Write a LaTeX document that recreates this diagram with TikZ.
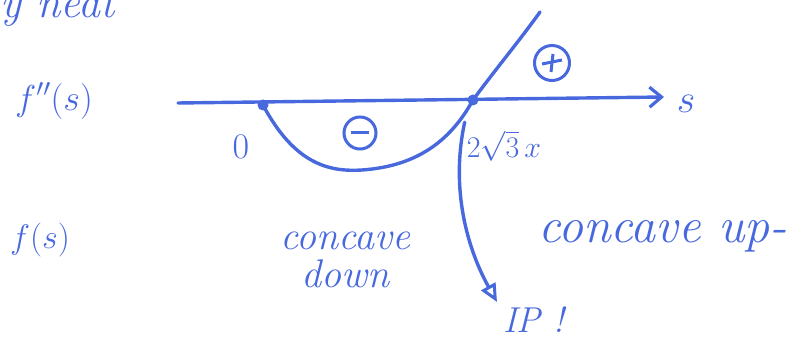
\RequirePackage{fix-cm}
\documentclass[tikz,border=0pt]{standalone}
\usetikzlibrary{arrows.meta}
\definecolor{ink}{RGB}{72,104,222}
\begin{document}
\begin{tikzpicture}[x=1pt,y=-1pt,
  pen/.style={draw=ink,line width=3.4pt,line cap=round,line join=round},
  lbl/.style={text=ink,inner sep=0pt},
  dotm/.style={circle,fill=ink,minimum size=11pt,inner sep=0pt}]
\useasboundingbox (0,0) rectangle (804,344);
\begin{scope}
\clip (0,0) rectangle (804,344);
\node[lbl,font=\fontsize{44}{48}\selectfont\itshape,anchor=west] (top) at (0,8) {y neat};
\end{scope}
\node[lbl,font=\fontsize{36}{40}\selectfont] (fpp) at (54,101) {$f''(s)$};
\node[lbl,font=\fontsize{34}{40}\selectfont] (fs) at (40,240) {$f(s)$};
\coordinate (axL) at (178,103);
\coordinate (axR) at (664,97);
\draw[pen,-{Straight Barb[length=12pt,width=20pt,line width=3.2pt]}] (axL) -- (axR);
\node[lbl,font=\fontsize{40}{44}\selectfont] (s) at (686,104) {$s$};
\node[dotm] (z) at (263,105) {};
\node[dotm] (r) at (473,100) {};
\node[lbl,font=\fontsize{36}{40}\selectfont] (zero) at (241,147) {$0$};
\draw[pen] (z.center) .. controls (295,165) and (330,172) .. (362,170)
  .. controls (420,166) and (452,138) .. (r.center)
  .. controls (495,70) and (520,40) .. (540,12);
\node[lbl,draw=ink,line width=3pt,circle,minimum size=32pt] (minus) at (360,133) {};
\draw[ink,line width=3pt] (minus.center) ++(-9,0) -- ++(18,0);
\node[lbl,draw=ink,line width=3pt,circle,minimum size=35pt] (plus) at (552,63) {};
\draw[ink,line width=3pt] (plus.center) ++(-10,1) -- ++(20,-4) (plus.center) ++(1,-9) -- ++(-2,18);
\node[lbl,font=\fontsize{30}{36}\selectfont] (root) at (504,146) {$2\sqrt{3}\,x$};
\draw[pen,-{Triangle[open,length=18pt,width=16pt,line width=3pt]}] (root.north west) ++(-2,-8)
  .. controls (450,190) and (468,250) .. (497,302) coordinate (ipArrow);
\node[lbl,font=\fontsize{36}{40}\selectfont\itshape,anchor=west] (ip) at (503,320) {IP !};
\node[lbl,font=\fontsize{40}{38}\selectfont\itshape,align=center] (cd) at (345,260) {concave\\down};
\node[lbl,font=\fontsize{50}{56}\selectfont\itshape,anchor=west] (cu) at (538,236) {concave up-};
\end{tikzpicture}
\end{document}
